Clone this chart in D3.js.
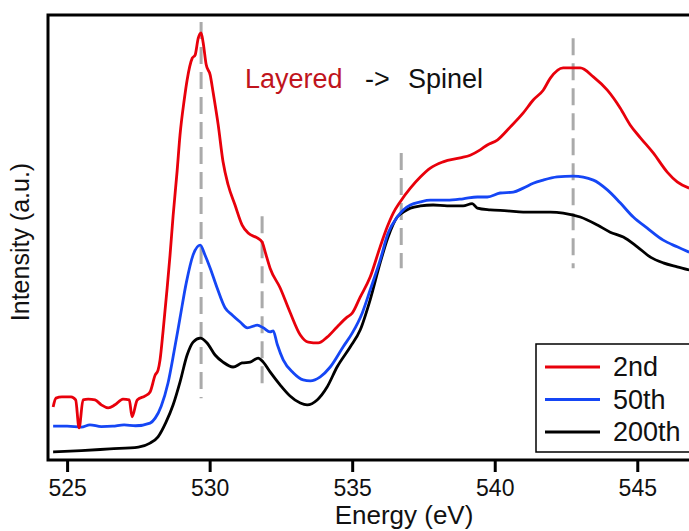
<!DOCTYPE html>
<html>
<head>
<meta charset="utf-8">
<script src="https://cdn.jsdelivr.net/npm/d3@7"></script>
<style>
  body { margin: 0; background: #fff; }
  svg { display: block; font-family: "Liberation Sans", Arial, sans-serif; }
</style>
</head>
<body>
<div id="chart"></div>
<script>
var width = 689;
var height = 531;

// energy (eV) and intensity (a.u.)
var red_e = [524.51, 524.61, 524.82, 525.14, 525.30, 525.42, 525.56, 525.74, 525.98, 526.20, 526.44, 526.68, 526.96, 527.18, 527.28, 527.46, 527.74, 527.91, 528.09, 528.19, 528.26, 528.37, 528.51, 528.61, 528.72, 528.86, 528.96, 529.11, 529.21, 529.39, 529.49, 529.60, 529.70, 529.77, 529.88, 530.02, 530.12, 530.30, 530.47, 530.65, 530.89, 531.14, 531.35, 531.67, 531.84, 531.95, 532.12, 532.47, 532.82, 533.18, 533.46, 533.81, 534.12, 534.47, 534.82, 535.00, 535.28, 535.63, 535.98, 536.23, 536.44, 536.68, 537.04, 537.39, 537.74, 538.19, 538.79, 539.14, 539.49, 539.74, 540.09, 540.54, 541.00, 541.35, 541.70, 541.95, 542.40, 543.00, 543.46, 543.95, 544.40, 544.75, 545.11, 545.56, 546.05, 546.40, 546.82];
var red_i = [11.9, 13.9, 14.2, 14.2, 13.5, 7.2, 13.5, 13.7, 13.5, 12.4, 11.7, 12.4, 13.7, 13.5, 9.7, 13.5, 14.4, 15.3, 19.1, 20.2, 22.5, 29.2, 38.7, 46.0, 55.0, 65.0, 73.0, 81.0, 85.4, 90.3, 91.0, 94.8, 96.0, 93.9, 88.8, 86.5, 82.7, 75.3, 67.0, 61.8, 57.3, 52.8, 51.0, 49.9, 49.0, 46.7, 43.1, 38.7, 33.2, 28.1, 26.5, 26.3, 27.6, 29.9, 32.1, 33.0, 36.6, 41.1, 47.9, 52.4, 55.5, 58.0, 61.1, 63.6, 65.6, 67.0, 67.9, 68.5, 69.7, 70.8, 71.9, 74.8, 78.0, 80.9, 83.1, 85.8, 88.1, 88.1, 86.1, 83.1, 79.1, 75.3, 72.4, 69.0, 64.7, 62.5, 61.1];

var blue_e = [524.51, 525.00, 525.50, 525.80, 526.20, 526.60, 527.00, 527.40, 527.91, 528.09, 528.30, 528.54, 528.75, 528.96, 529.18, 529.42, 529.67, 529.84, 530.02, 530.26, 530.54, 530.79, 531.07, 531.32, 531.67, 531.88, 532.12, 532.23, 532.37, 532.58, 532.93, 533.28, 533.53, 533.88, 534.23, 534.68, 535.00, 535.35, 535.63, 535.98, 536.26, 536.58, 536.79, 537.04, 537.39, 537.74, 538.33, 538.89, 539.39, 539.74, 540.19, 540.65, 541.00, 541.35, 541.70, 542.19, 542.75, 543.46, 543.95, 544.40, 544.86, 545.35, 545.91, 546.40, 546.82];
var blue_i = [7.6, 7.6, 7.4, 7.9, 7.5, 7.6, 7.9, 7.7, 8.3, 9.4, 12.1, 17.3, 24.3, 31.9, 39.8, 46.1, 48.3, 46.0, 43.1, 38.7, 34.2, 32.6, 31.0, 29.7, 30.3, 29.7, 28.8, 29.0, 26.0, 22.5, 19.6, 18.0, 17.8, 18.7, 20.9, 25.4, 28.5, 33.0, 38.2, 44.9, 51.0, 54.6, 56.2, 57.3, 58.0, 58.4, 58.4, 58.7, 59.1, 59.1, 60.0, 60.2, 61.1, 62.2, 62.9, 63.6, 63.8, 62.9, 60.7, 57.8, 54.6, 52.1, 49.4, 47.9, 46.7];

var black_e = [524.51, 525.50, 526.50, 527.50, 527.91, 528.19, 528.47, 528.72, 528.96, 529.21, 529.42, 529.67, 529.91, 530.19, 530.47, 530.82, 531.14, 531.42, 531.70, 531.88, 532.12, 532.47, 532.82, 533.18, 533.42, 533.77, 534.12, 534.47, 534.93, 535.28, 535.63, 535.98, 536.26, 536.58, 536.79, 537.04, 537.39, 537.84, 538.33, 538.89, 539.21, 539.39, 539.84, 540.44, 541.00, 541.60, 541.95, 542.40, 543.00, 543.60, 544.05, 544.51, 545.00, 545.46, 545.91, 546.40, 546.82];
var black_i = [1.8, 2.1, 2.5, 2.9, 3.8, 5.2, 8.5, 12.4, 17.5, 23.6, 26.5, 27.4, 26.3, 23.6, 22.0, 20.9, 21.8, 22.0, 22.9, 22.0, 19.8, 16.9, 14.4, 12.8, 12.4, 13.5, 16.4, 20.9, 25.4, 29.2, 36.0, 44.3, 50.1, 54.6, 55.7, 56.6, 57.1, 57.3, 57.1, 57.1, 57.6, 56.6, 56.2, 56.0, 55.7, 55.7, 55.7, 55.5, 54.6, 52.8, 51.2, 50.1, 47.9, 45.6, 44.3, 43.4, 42.7];

var series_names = ["2nd", "50th", "200th"];
var series_colors = ["#e8000b", "#1546f5", "#000000"];

var x_ticks = [525, 530, 535, 540, 545];

// dashed guide lines: energy, top and bottom intensity
var guide_e = [529.70, 531.84, 536.72, 542.75];
var guide_top = [98.4, 54.8, 69.0, 94.8];
var guide_bottom = [13.9, 16.2, 43.1, 43.1];

var svg = d3.select("#chart").append("svg")
  .attr("width", width)
  .attr("height", height);

var x = d3.scaleLinear().domain([524.33, 547.2]).range([48, 700]);
var y = d3.scaleLinear().domain([0, 100]).range([460, 15]);

var line = d3.line()
  .curve(d3.curveMonotoneX)
  .x(function(d) { return x(d[0]); })
  .y(function(d) { return y(d[1]); });

var series = [d3.zip(red_e, red_i), d3.zip(blue_e, blue_i), d3.zip(black_e, black_i)];

// guides
svg.append("g").selectAll("line")
  .data(guide_e)
  .enter().append("line")
  .attr("x1", function(d) { return x(d); })
  .attr("x2", function(d) { return x(d); })
  .attr("y1", function(d, i) { return y(guide_top[i]); })
  .attr("y2", function(d, i) { return y(guide_bottom[i]); })
  .attr("stroke", "#aaaaaa")
  .attr("stroke-width", 3)
  .attr("stroke-dasharray", "17,8");

// curves, black first so red sits on top
svg.append("g").selectAll("path")
  .data(series.slice().reverse())
  .enter().append("path")
  .attr("d", line)
  .attr("fill", "none")
  .attr("stroke", function(d, i) { return series_colors[2 - i]; })
  .attr("stroke-width", 2.8)
  .attr("stroke-linejoin", "round");

// frame
svg.append("rect")
  .attr("x", x.range()[0])
  .attr("y", y.range()[1])
  .attr("width", x.range()[1] - x.range()[0])
  .attr("height", y.range()[0] - y.range()[1])
  .attr("fill", "none")
  .attr("stroke", "#000")
  .attr("stroke-width", 3);

// x axis
var xAxis = svg.append("g")
  .attr("transform", "translate(0," + y.range()[0] + ")")
  .call(d3.axisBottom(x).tickValues(x_ticks).tickSize(12).tickPadding(8).tickFormat(d3.format("d")));
xAxis.select(".domain").remove();
xAxis.selectAll(".tick line").attr("stroke-width", 3);
xAxis.selectAll(".tick text")
  .attr("font-size", 23)
  .attr("font-family", "Liberation Sans, Arial, sans-serif")
  .attr("fill", "#111");

svg.append("text")
  .attr("x", 404)
  .attr("y", 524)
  .attr("text-anchor", "middle")
  .attr("font-size", 26)
  .attr("fill", "#111")
  .text("Energy (eV)");

svg.append("text")
  .attr("transform", "translate(29,242) rotate(-90)")
  .attr("text-anchor", "middle")
  .attr("font-size", 25)
  .attr("fill", "#111")
  .text("Intensity (a.u.)");

// annotation
var note = svg.append("text")
  .attr("x", 245)
  .attr("y", 88)
  .attr("font-size", 27)
  .attr("fill", "#111");
note.append("tspan").attr("fill", "#c0141c").text("Layered");
note.append("tspan").attr("x", 365).text("->");
note.append("tspan").attr("x", 408).text("Spinel");

// legend
var legend = svg.append("g").attr("transform", "translate(536,344)");
legend.append("rect")
  .attr("width", 170)
  .attr("height", 108)
  .attr("fill", "#fff")
  .attr("stroke", "#000")
  .attr("stroke-width", 1.5);
var rows = legend.selectAll("g.row")
  .data(series_names)
  .enter().append("g")
  .attr("class", "row")
  .attr("transform", function(d, i) { return "translate(0," + (23 + i * 32.5) + ")"; });
rows.append("line")
  .attr("x1", 9).attr("x2", 64)
  .attr("stroke", function(d, i) { return series_colors[i]; })
  .attr("stroke-width", 3);
rows.append("text")
  .attr("x", 77)
  .attr("y", 9)
  .attr("font-size", 27)
  .attr("fill", "#111")
  .text(function(d) { return d; });
</script>
</body>
</html>
